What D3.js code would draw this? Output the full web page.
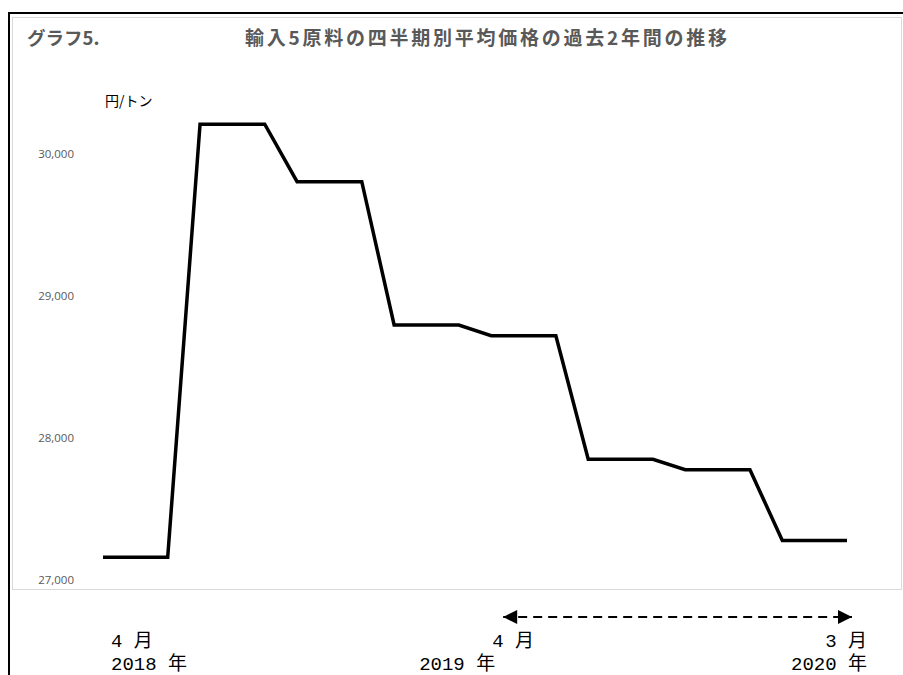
<!DOCTYPE html>
<html>
<head>
<meta charset="utf-8">
<script src="https://cdn.jsdelivr.net/npm/d3@7/dist/d3.min.js"></script>
<style>
  html, body { margin: 0; padding: 0; background: #fff; }
  svg { display: block; }
</style>
</head>
<body>
<svg id="chart" width="903" height="675"></svg>
<script>
// ---- data ----
const months = ["2018-04","2018-05","2018-06","2018-07","2018-08","2018-09",
                "2018-10","2018-11","2018-12","2019-01","2019-02","2019-03",
                "2019-04","2019-05","2019-06","2019-07","2019-08","2019-09",
                "2019-10","2019-11","2019-12","2020-01","2020-02","2020-03"];
const prices = [27160, 27160, 27160, 30210, 30210, 30210,
                29805, 29805, 29805, 28796, 28796, 28796,
                28720, 28720, 28720, 27850, 27850, 27850,
                27777, 27777, 27777, 27278, 27278, 27278];
const yTicks = [27000, 28000, 29000, 30000];
const labelMonths = ["2018-04", "2019-04", "2020-03"];
const monthTexts = ["4 月", "4 月", "3 月"];
const yearTexts = ["2018 年", "2019 年", "2020 年"];
const chartLabel = "グラフ5.";
const title = "輸入5原料の四半期別平均価格の過去2年間の推移";
const unit = "円/トン";

// ---- drawing ----
const svg = d3.select("#chart");
const x = d3.scalePoint().domain(months).range([103, 847]);
const y = d3.scaleLinear().domain([27000, 30000]).range([580, 154]);

// outer black frame (top & left visible)
svg.append("line").attr("x1", 8).attr("x2", 903).attr("y1", 13).attr("y2", 13)
  .attr("stroke", "#000").attr("stroke-width", 2);
svg.append("line").attr("x1", 9).attr("x2", 9).attr("y1", 12).attr("y2", 675)
  .attr("stroke", "#000").attr("stroke-width", 2);

// inner chart area box
svg.append("rect").attr("x", 12.5).attr("y", 17.5).attr("width", 889).attr("height", 572)
  .attr("fill", "#fff").attr("stroke", "#d9d9d9").attr("stroke-width", 1);

// header texts
svg.append("text").attr("x", 27).attr("y", 45)
  .attr("font-family", "'Noto Sans CJK JP', sans-serif").attr("font-weight", "bold")
  .attr("font-size", 18.5).attr("fill", "#595959").text(chartLabel);
svg.append("text").attr("x", 245).attr("y", 45)
  .attr("font-family", "'Noto Sans CJK JP', sans-serif").attr("font-weight", "bold")
  .attr("font-size", 19).attr("fill", "#595959")
  .attr("textLength", 482).attr("lengthAdjust", "spacing").text(title);
svg.append("text").attr("x", 105).attr("y", 106)
  .attr("font-family", "'Noto Sans CJK JP', sans-serif")
  .attr("font-size", 14).attr("fill", "#000").text(unit);

// y axis (labels only)
const yAxis = d3.axisLeft(y).tickValues(yTicks).tickSize(0).tickPadding(0)
  .tickFormat(d3.format(","));
const gy = svg.append("g").attr("transform", "translate(74,0)").call(yAxis);
gy.select(".domain").remove();
gy.selectAll("text").attr("font-family", "'Open Sans', sans-serif")
  .attr("font-size", 11.5).attr("fill", "#595959");

// line
const line = d3.line().x((d, i) => x(months[i])).y(d => y(d));
svg.append("path").datum(prices).attr("d", line)
  .attr("fill", "none").attr("stroke", "#000").attr("stroke-width", 3.5)
  .attr("stroke-linejoin", "miter");

// bottom labels (placement style per label: first left, middle, last right)
const lf = "'Liberation Mono', 'Noto Sans CJK JP', monospace";
const place = [
  {mx: 8, ma: "start", yx: 8, ya: "start"},
  {mx: 1, ma: "start", yx: 4, ya: "end"},
  {mx: 20, ma: "end", yx: 20, ya: "end"}
];
labelMonths.forEach((m, i) => {
  const cx = x(m), p = place[i];
  svg.append("text").attr("x", cx + p.mx).attr("y", 647).attr("text-anchor", p.ma)
    .attr("font-family", lf).attr("font-size", 19).attr("fill", "#000").text(monthTexts[i]);
  svg.append("text").attr("x", cx + p.yx).attr("y", 670).attr("text-anchor", p.ya)
    .attr("font-family", lf).attr("font-size", 19).attr("fill", "#000").text(yearTexts[i]);
});

// dashed double arrow
const defs = svg.append("defs");
defs.append("marker").attr("id", "arr").attr("viewBox", "0 0 10 10")
  .attr("refX", 10).attr("refY", 5).attr("markerWidth", 7.5).attr("markerHeight", 7)
  .attr("markerUnits", "strokeWidth").attr("orient", "auto-start-reverse")
  .append("path").attr("d", "M0,0 L10,5 L0,10 Z").attr("fill", "#000");
svg.append("line").attr("x1", x("2019-04") + 12).attr("x2", x("2020-03") + 5)
  .attr("y1", 617).attr("y2", 617)
  .attr("stroke", "#000").attr("stroke-width", 2).attr("stroke-dasharray", "9,6")
  .attr("marker-start", "url(#arr)").attr("marker-end", "url(#arr)");
</script>
</body>
</html>
